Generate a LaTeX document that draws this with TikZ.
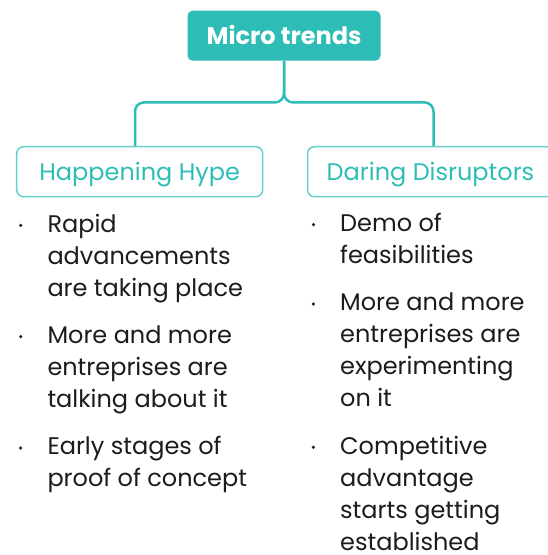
\documentclass[tikz,border=0pt]{standalone}
\usepackage{fontspec}
\setmainfont{Poppins}
\usetikzlibrary{positioning}
\definecolor{trendteal}{HTML}{2EBDB6}
\definecolor{edgeteal}{HTML}{66D0CB}
\definecolor{ink}{HTML}{1C1C1C}

\begin{document}
\begin{tikzpicture}[x=1pt,y=-1pt,
  head/.style={rectangle, rounded corners=5pt, fill=trendteal, text=white, minimum width=193pt, minimum height=50pt, text height=17pt, text depth=0pt, font=\fontsize{24}{28}\selectfont\bfseries},
  group/.style={rectangle, draw=edgeteal, line width=1.5pt, rounded corners=7pt, text=trendteal, minimum width=246pt, minimum height=50pt, text height=17pt, text depth=0pt, font=\fontsize{24}{28}\selectfont},
  item/.style={anchor=base west, align=left, inner sep=0pt, text=ink, font=\fontsize{24}{32}\selectfont},
  dot/.style={circle, fill=ink, inner sep=0pt, minimum size=3.5pt},
  link/.style={draw=trendteal, line width=2.5pt, rounded corners=9pt}
]
\useasboundingbox (0,0) rectangle (548,555);
\clip (0,0) rectangle (548,555);

\node[head]  (micro)  at (284,35.7)    {Micro trends};
\node[group] (hype)   at (139.7,171.7) {Happening Hype};
\node[group] (daring) at (430.5,171.7) {Daring Disruptors};

\draw[link] (micro.south) -- ++(0,41.5) -| ([xshift=-4.7pt]hype.north);
\draw[link] (micro.south) -- ++(0,41.5) -| ([xshift=3pt]daring.north);

% left column (placed at the last baseline)
\node[item] (hype1) at (47.3,296)   {Rapid\\advancements\\are taking place};
\node[item] (hype2) at (47.3,407.3) {More and more\\entreprises are\\talking about it};
\node[item] (hype3) at (47.3,486.7) {Early stages of\\proof of concept};

% right column
\node[item] (dare1) at (340,263.3) {Demo of\\feasibilities};
\node[item] (dare2) at (340,406.7) {More and more\\entreprises are\\experimenting\\on it};
\node[item] (dare3) at (340,550)   {Competitive\\advantage\\starts getting\\established};

% bullets beside the first line of each item
\foreach \n/\k in {hype1/3,hype2/3,hype3/2,dare1/2,dare2/4,dare3/4}
  \node[dot] (\n-dot) at ([xshift=-26.6pt,yshift=6.7pt+(\k-1)*32pt]\n.base west) {};
\end{tikzpicture}
\end{document}
